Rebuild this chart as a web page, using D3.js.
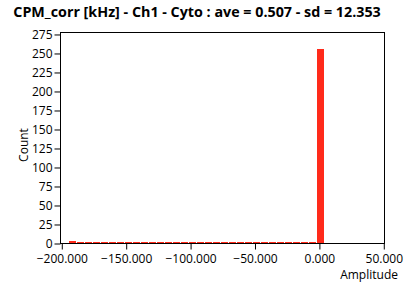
<!DOCTYPE html>
<html><head><meta charset="utf-8">
<script src="https://cdn.jsdelivr.net/npm/d3@7/dist/d3.min.js"></script>
<style>body{margin:0;background:#fff}svg{display:block}text{font-family:"Open Sans",sans-serif}</style>
</head><body><div id="c"></div>
<script>
const title = "CPM_corr [kHz] - Ch1 - Cyto : ave = 0.507 - sd = 12.353";
const binStarts = [-194.55,-188.32,-182.10,-175.87,-169.65,-163.42,-157.20,-150.97,-144.75,-138.52,-132.29,-126.07,-119.84,-113.62,-107.39,-101.17,-94.94,-88.71,-82.49,-76.26,-70.04,-63.81,-57.59,-51.36,-45.14,-38.91,-32.68,-26.46,-20.23,-14.01,-7.78,-1.56];
const binEnds = [-188.32,-182.10,-175.87,-169.65,-163.42,-157.20,-150.97,-144.75,-138.52,-132.29,-126.07,-119.84,-113.62,-107.39,-101.17,-94.94,-88.71,-82.49,-76.26,-70.04,-63.81,-57.59,-51.36,-45.14,-38.91,-32.68,-26.46,-20.23,-14.01,-7.78,-1.56,4.67];
const counts = [1,0,0,0,0,0,0,0,0,0,0,0,0,0,0,0,0,0,0,0,0,0,0,0,0,0,0,0,0,0,0,254];
const xTicks = [-200,-150,-100,-50,0,50];
const yTicks = [0,25,50,75,100,125,150,175,200,225,250,275];
const xLabel = "Amplitude", yLabel = "Count";

const W=408,H=287;
const L=60.5,R=384.5,T=32.5,B=243.5;
const svg=d3.select("#c").append("svg").attr("width",W).attr("height",H);
const x=d3.scaleLinear().domain([-201,50.55]).range([L,R]);
const y=d3.scaleLinear().domain([0,277.6]).range([B,T]);

svg.append("text").attr("x",197).attr("y",17).attr("text-anchor","middle")
  .attr("font-weight","bold").attr("font-size",14.3).text(title);

const base = Math.floor(B); // pixel row of the frame line; bars end just above it
const bars = binStarts.map((s,i)=>({s,e:binEnds[i],v:counts[i]}));
svg.append("g").selectAll("rect").data(bars).join("rect")
  .attr("x",d=>Math.round(x(d.s)))
  .attr("width",d=>Math.max(1,Math.round(x(d.e))-Math.round(x(d.s))-1))
  .attr("y",d=>Math.floor(y(d.v))-1)
  .attr("height",d=>base-(Math.floor(y(d.v))-1))
  .attr("fill","#ff2a1a").attr("shape-rendering","crispEdges");

const ax=svg.append("g").attr("transform",`translate(0,${B})`)
  .call(d3.axisBottom(x).tickValues(xTicks).tickFormat(d3.format(".3f")).tickSize(6).tickSizeOuter(0));
const ay=svg.append("g").attr("transform",`translate(${L},0)`)
  .call(d3.axisLeft(y).tickValues(yTicks).tickSize(6).tickSizeOuter(0).tickPadding(2));
[ax,ay].forEach(g=>{g.select(".domain").remove();g.selectAll("text").attr("font-family","'Open Sans',sans-serif").attr("font-size",12).attr("fill","#000");g.selectAll("line").attr("stroke","#000");});
ax.selectAll("text").attr("dy","0.9em");

svg.append("rect").attr("x",L).attr("y",T).attr("width",R-L).attr("height",B-T)
  .attr("fill","none").attr("stroke","#000").attr("stroke-width",1);

svg.append("text").attr("x",398).attr("y",279).attr("text-anchor","end").attr("font-size",12).text(xLabel);
svg.append("text").attr("transform","translate(28,145) rotate(-90)").attr("text-anchor","middle").attr("font-size",12).text(yLabel);
</script></body></html>
